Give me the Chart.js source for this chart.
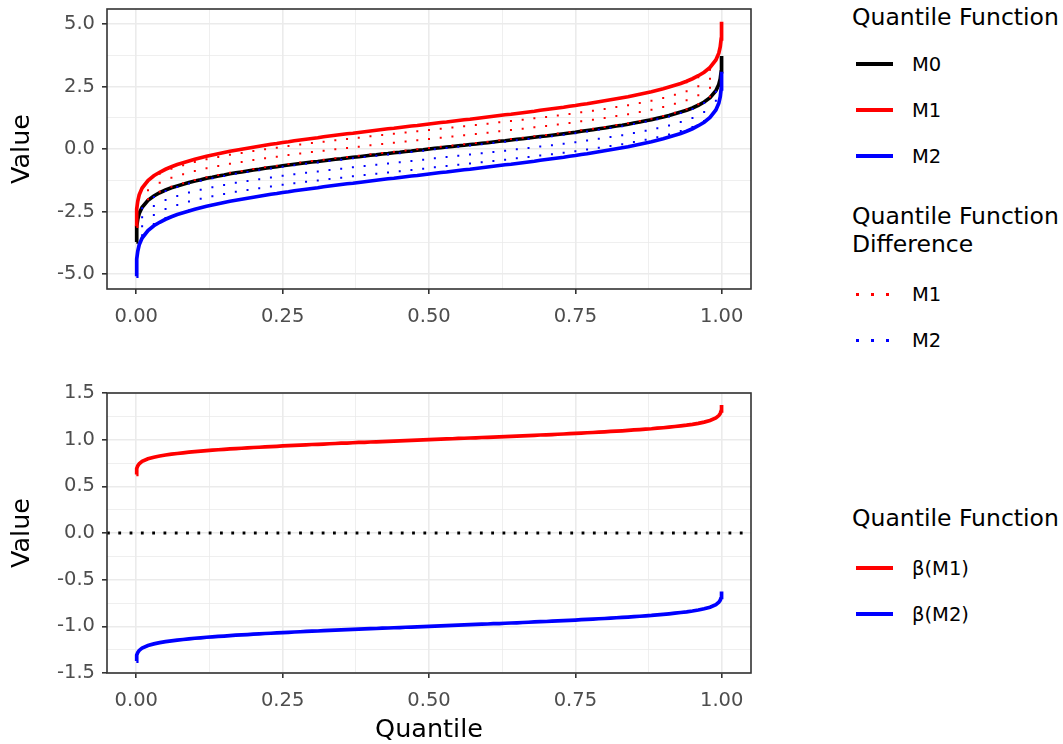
<!DOCTYPE html>
<html>
<head>
<meta charset="utf-8">
<script src="https://cdn.jsdelivr.net/npm/chart.js@4.4.1/dist/chart.umd.min.js"></script>
<style>
  body { margin: 0; background: #fff; width: 1063px; height: 744px; position: relative; overflow: hidden; font-family: "DejaVu Sans", sans-serif; }
  canvas { position: absolute; left: 0; }
  .lg { position: absolute; left: 852px; color: #000; white-space: nowrap; }
  .ttl { font-size: 23.5px; line-height: 28px; }
  .item { position: absolute; left: 856px; height: 24px; display: flex; align-items: center; font-size: 19.5px; }
  .key { width: 37px; height: 3.6px; margin-right: 19px; }
  .dots { height: 3px; }
</style>
</head>
<body>
<canvas id="top" width="760" height="335" style="top:0"></canvas>
<canvas id="bottom" width="760" height="404" style="top:340px"></canvas>

<div class="lg ttl" style="top:3px">Quantile Function</div>
<div class="item" style="top:52px"><div class="key" style="background:#000"></div>M0</div>
<div class="item" style="top:98px"><div class="key" style="background:#ff0000"></div>M1</div>
<div class="item" style="top:144px"><div class="key" style="background:#0000ff"></div>M2</div>

<div class="lg ttl" style="top:202px">Quantile Function<br>Difference</div>
<div class="item" style="top:282px"><div class="key dots" style="background:repeating-linear-gradient(to right,#ff0000 0 3px,transparent 3px 15px)"></div>M1</div>
<div class="item" style="top:328px"><div class="key dots" style="background:repeating-linear-gradient(to right,#0000ff 0 3px,transparent 3px 15px)"></div>M2</div>

<div class="lg ttl" style="top:504px">Quantile Function</div>
<div class="item" style="top:556px"><div class="key" style="background:#ff0000"></div>β(M1)</div>
<div class="item" style="top:602px"><div class="key" style="background:#0000ff"></div>β(M2)</div>

<script>
// quantile grid: dense tails, then every 0.01
const quantiles = [0.0001, 0.0005, 0.001, 0.0025, 0.005,
  0.01, 0.02, 0.03, 0.04, 0.05, 0.06, 0.07, 0.08, 0.09, 0.10,
  0.11, 0.12, 0.13, 0.14, 0.15, 0.16, 0.17, 0.18, 0.19, 0.20,
  0.21, 0.22, 0.23, 0.24, 0.25, 0.26, 0.27, 0.28, 0.29, 0.30,
  0.31, 0.32, 0.33, 0.34, 0.35, 0.36, 0.37, 0.38, 0.39, 0.40,
  0.41, 0.42, 0.43, 0.44, 0.45, 0.46, 0.47, 0.48, 0.49, 0.50,
  0.51, 0.52, 0.53, 0.54, 0.55, 0.56, 0.57, 0.58, 0.59, 0.60,
  0.61, 0.62, 0.63, 0.64, 0.65, 0.66, 0.67, 0.68, 0.69, 0.70,
  0.71, 0.72, 0.73, 0.74, 0.75, 0.76, 0.77, 0.78, 0.79, 0.80,
  0.81, 0.82, 0.83, 0.84, 0.85, 0.86, 0.87, 0.88, 0.89, 0.90,
  0.91, 0.92, 0.93, 0.94, 0.95, 0.96, 0.97, 0.98, 0.99,
  0.995, 0.9975, 0.999, 0.9995, 0.9999];

const m0 = [-3.72, -3.29, -3.09, -2.81, -2.58,
  -2.33, -2.05, -1.88, -1.75, -1.64, -1.55, -1.48, -1.41, -1.34, -1.28,
  -1.23, -1.17, -1.13, -1.08, -1.04, -0.99, -0.95, -0.92, -0.88, -0.84,
  -0.81, -0.77, -0.74, -0.71, -0.67, -0.64, -0.61, -0.58, -0.55, -0.52,
  -0.50, -0.47, -0.44, -0.41, -0.39, -0.36, -0.33, -0.31, -0.28, -0.25,
  -0.23, -0.20, -0.18, -0.15, -0.13, -0.10, -0.08, -0.05, -0.03, 0.00,
  0.03, 0.05, 0.08, 0.10, 0.13, 0.15, 0.18, 0.20, 0.23, 0.25,
  0.28, 0.31, 0.33, 0.36, 0.39, 0.41, 0.44, 0.47, 0.50, 0.52,
  0.55, 0.58, 0.61, 0.64, 0.67, 0.71, 0.74, 0.77, 0.81, 0.84,
  0.88, 0.92, 0.95, 0.99, 1.04, 1.08, 1.13, 1.17, 1.23, 1.28,
  1.34, 1.41, 1.48, 1.55, 1.64, 1.75, 1.88, 2.05, 2.33,
  2.58, 2.81, 3.09, 3.29, 3.72];

const m1 = [-3.09, -2.62, -2.40, -2.09, -1.83,
  -1.56, -1.26, -1.07, -0.93, -0.81, -0.71, -0.62, -0.55, -0.48, -0.41,
  -0.35, -0.29, -0.24, -0.19, -0.14, -0.09, -0.05, -0.01, 0.03, 0.07,
  0.11, 0.15, 0.19, 0.22, 0.26, 0.29, 0.33, 0.36, 0.39, 0.42,
  0.45, 0.49, 0.52, 0.55, 0.58, 0.61, 0.63, 0.66, 0.69, 0.72,
  0.75, 0.78, 0.81, 0.83, 0.86, 0.89, 0.92, 0.94, 0.97, 1.00,
  1.03, 1.06, 1.08, 1.11, 1.14, 1.17, 1.19, 1.22, 1.25, 1.28,
  1.31, 1.34, 1.37, 1.39, 1.42, 1.45, 1.48, 1.51, 1.55, 1.58,
  1.61, 1.64, 1.67, 1.71, 1.74, 1.78, 1.81, 1.85, 1.89, 1.93,
  1.97, 2.01, 2.05, 2.09, 2.14, 2.19, 2.24, 2.29, 2.35, 2.41,
  2.48, 2.55, 2.62, 2.71, 2.81, 2.93, 3.07, 3.26, 3.56,
  3.83, 4.09, 4.40, 4.62, 5.09];

const m2 = [-5.09, -4.62, -4.40, -4.09, -3.83,
  -3.56, -3.26, -3.07, -2.93, -2.81, -2.71, -2.62, -2.55, -2.48, -2.41,
  -2.35, -2.29, -2.24, -2.19, -2.14, -2.09, -2.05, -2.01, -1.97, -1.93,
  -1.89, -1.85, -1.81, -1.78, -1.74, -1.71, -1.67, -1.64, -1.61, -1.58,
  -1.55, -1.51, -1.48, -1.45, -1.42, -1.39, -1.37, -1.34, -1.31, -1.28,
  -1.25, -1.22, -1.19, -1.17, -1.14, -1.11, -1.08, -1.06, -1.03, -1.00,
  -0.97, -0.94, -0.92, -0.89, -0.86, -0.83, -0.81, -0.78, -0.75, -0.72,
  -0.69, -0.66, -0.63, -0.61, -0.58, -0.55, -0.52, -0.49, -0.45, -0.42,
  -0.39, -0.36, -0.33, -0.29, -0.26, -0.22, -0.19, -0.15, -0.11, -0.07,
  -0.03, 0.01, 0.05, 0.09, 0.14, 0.19, 0.24, 0.29, 0.35, 0.41,
  0.48, 0.55, 0.62, 0.71, 0.81, 0.93, 1.07, 1.26, 1.56,
  1.83, 2.09, 2.40, 2.62, 3.09];

const beta1 = [0.628, 0.671, 0.691, 0.719, 0.742,
  0.767, 0.795, 0.812, 0.825, 0.836, 0.845, 0.852, 0.859, 0.866, 0.872,
  0.877, 0.883, 0.887, 0.892, 0.896, 0.901, 0.905, 0.908, 0.912, 0.916,
  0.919, 0.923, 0.926, 0.929, 0.933, 0.936, 0.939, 0.942, 0.945, 0.948,
  0.950, 0.953, 0.956, 0.959, 0.962, 0.964, 0.967, 0.970, 0.972, 0.975,
  0.977, 0.980, 0.982, 0.985, 0.987, 0.990, 0.992, 0.995, 0.997, 1.000,
  1.003, 1.005, 1.008, 1.010, 1.013, 1.015, 1.018, 1.020, 1.023, 1.025,
  1.028, 1.030, 1.033, 1.036, 1.038, 1.041, 1.044, 1.047, 1.050, 1.052,
  1.055, 1.058, 1.061, 1.064, 1.067, 1.071, 1.074, 1.077, 1.081, 1.084,
  1.088, 1.092, 1.095, 1.099, 1.104, 1.108, 1.113, 1.117, 1.123, 1.128,
  1.134, 1.141, 1.148, 1.155, 1.164, 1.175, 1.188, 1.205, 1.233,
  1.258, 1.281, 1.309, 1.329, 1.372];

const beta2 = [-1.372, -1.329, -1.309, -1.281, -1.258,
  -1.233, -1.205, -1.188, -1.175, -1.164, -1.155, -1.148, -1.141, -1.134, -1.128,
  -1.123, -1.117, -1.113, -1.108, -1.104, -1.099, -1.095, -1.092, -1.088, -1.084,
  -1.081, -1.077, -1.074, -1.071, -1.067, -1.064, -1.061, -1.058, -1.055, -1.052,
  -1.050, -1.047, -1.044, -1.041, -1.038, -1.036, -1.033, -1.030, -1.028, -1.025,
  -1.023, -1.020, -1.018, -1.015, -1.013, -1.010, -1.008, -1.005, -1.003, -1.000,
  -0.997, -0.995, -0.992, -0.990, -0.987, -0.985, -0.982, -0.980, -0.977, -0.975,
  -0.972, -0.970, -0.967, -0.964, -0.962, -0.959, -0.956, -0.953, -0.950, -0.948,
  -0.945, -0.942, -0.939, -0.936, -0.933, -0.929, -0.926, -0.923, -0.919, -0.916,
  -0.912, -0.908, -0.905, -0.901, -0.896, -0.892, -0.887, -0.883, -0.877, -0.872,
  -0.866, -0.859, -0.852, -0.845, -0.836, -0.825, -0.812, -0.795, -0.767,
  -0.742, -0.719, -0.691, -0.671, -0.628];

// axis ticks (major get labels, minor only grid lines)
const xMajor = [0, 0.25, 0.5, 0.75, 1];
const xMinor = [0.125, 0.375, 0.625, 0.875];
const yTopMajor = [-5, -2.5, 0, 2.5, 5];
const yTopMinor = [-3.75, -1.25, 1.25, 3.75];
const yBotMajor = [-1.5, -1, -0.5, 0, 0.5, 1, 1.5];
const yBotMinor = [-1.25, -0.75, -0.25, 0.25, 0.75, 1.25];

const FONT = '"DejaVu Sans", sans-serif';
const pts = (ys) => quantiles.map((q, i) => ({ x: q, y: ys[i] }));

// vertical dotted segments from M0 to M1 (even hundredths) and M0 to M2 (odd hundredths)
function diffSegments(other, parity) {
  const out = [];
  for (let i = 5; i < quantiles.length - 5; i++) {
    if ((i - 4) % 2 !== parity) continue;
    out.push({ x: quantiles[i], y: m0[i] });
    out.push({ x: quantiles[i], y: other[i] });
    out.push({ x: quantiles[i], y: null });
  }
  return out;
}

const panelBorder = {
  id: 'panelBorder',
  afterDatasetsDraw(chart) {
    const a = chart.chartArea, ctx = chart.ctx;
    ctx.save();
    ctx.strokeStyle = '#333333';
    ctx.lineWidth = 1.6;
    ctx.strokeRect(a.left, a.top, a.right - a.left, a.bottom - a.top);
    ctx.restore();
  }
};

function axis(major, minor, min, max, digits, size, opts) {
  const isMajor = (v) => major.some(m => Math.abs(m - v) < 1e-9);
  return Object.assign({
    type: 'linear', min: min, max: max,
    afterBuildTicks: (s) => { s.ticks = major.concat(minor).sort((a, b) => a - b).map(v => ({ value: v })); },
    afterFit: (s) => {
      // fixed box so the panel lands where the reference has it
      if (s.isHorizontal()) { s.height = size; s.paddingLeft = 0; s.paddingRight = 0; }
      else { s.width = size; s.paddingTop = 0; s.paddingBottom = 0; }
    },
    border: { display: false },
    grid: {
      color: '#EBEBEB',
      lineWidth: (c) => (c.tick && isMajor(c.tick.value)) ? 1.6 : 0.8,
      tickColor: (c) => (c.tick && isMajor(c.tick.value)) ? '#333333' : 'rgba(0,0,0,0)',
      tickLength: 5,
      tickWidth: 1.6
    },
    ticks: {
      autoSkip: false, maxRotation: 0,
      color: '#4D4D4D', font: { family: FONT, size: 19.5 }, padding: size > 100 ? 7 : 11,
      callback: (v) => isMajor(v) ? v.toFixed(digits) : ''
    }
  }, opts);
}

const titleOpts = (text, pad) => ({
  display: true, text: text, color: '#000',
  font: { family: FONT, size: 25.5, lineHeight: 1 }, padding: pad
});

const common = {
  responsive: false,
  animation: false,
  events: [],
  plugins: { legend: { display: false }, tooltip: { enabled: false } },
  elements: { point: { radius: 0 }, line: { tension: 0, borderCapStyle: 'butt' } }
};

new Chart(document.getElementById('top'), {
  type: 'line',
  data: {
    datasets: [
      { data: diffSegments(m1, 0), borderColor: '#ff0000', borderWidth: 2, borderDash: [2, 7], order: 0 },
      { data: diffSegments(m2, 1), borderColor: '#0000ff', borderWidth: 2, borderDash: [2, 7], order: 0 },
      { data: pts(m0), borderColor: '#000000', borderWidth: 3.7, order: 2 },
      { data: pts(m1), borderColor: '#ff0000', borderWidth: 3.7, order: 1 },
      { data: pts(m2), borderColor: '#0000ff', borderWidth: 3.7, order: 1 }
    ]
  },
  options: Object.assign({}, common, {
    layout: { padding: { top: 9, right: 9, left: 0, bottom: 0 } },
    scales: {
      x: axis(xMajor, xMinor, -0.05, 1.05, 2, 46, {}),
      y: axis(yTopMajor, yTopMinor, -5.6, 5.6, 1, 107, { title: titleOpts('Value', { top: 10, bottom: 0 }) })
    }
  }),
  plugins: [panelBorder]
});

new Chart(document.getElementById('bottom'), {
  type: 'line',
  data: {
    datasets: [
      { data: [{ x: -0.05, y: 0 }, { x: 1.05, y: 0 }], borderColor: '#000000', borderWidth: 2.8, borderDash: [2.8, 8.5], order: 2 },
      { data: pts(beta1), borderColor: '#ff0000', borderWidth: 3.7, order: 1 },
      { data: pts(beta2), borderColor: '#0000ff', borderWidth: 3.7, order: 1 }
    ]
  },
  options: Object.assign({}, common, {
    layout: { padding: { top: 53, right: 9, left: 0, bottom: 0 } },
    scales: {
      x: axis(xMajor, xMinor, -0.05, 1.05, 2, 71, { title: titleOpts('Quantile', { top: 0, bottom: 1 }) }),
      y: axis(yBotMajor, yBotMinor, -1.5, 1.5, 1, 107, { title: titleOpts('Value', { top: 10, bottom: 0 }) })
    }
  }),
  plugins: [panelBorder]
});
</script>
</body>
</html>
